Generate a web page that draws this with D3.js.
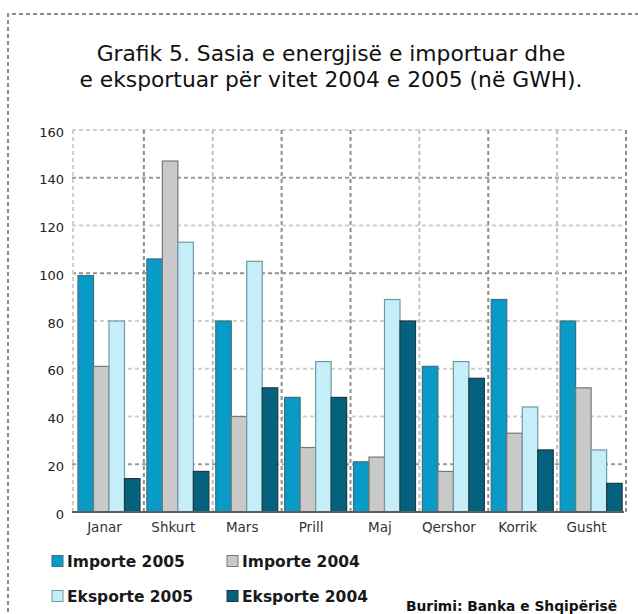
<!DOCTYPE html>
<html>
<head>
<meta charset="utf-8">
<script src="https://cdn.jsdelivr.net/npm/d3@7"></script>
<style>
  html, body { margin: 0; padding: 0; background: #fff; }
  svg { display: block; }
  text { font-family: "DejaVu Sans", Verdana, sans-serif; }
</style>
</head>
<body>
<svg id="chart" width="638" height="614"></svg>
<script>
// ---- data ----
const months = ["Janar", "Shkurt", "Mars", "Prill", "Maj", "Qershor", "Korrik", "Gusht"];
const seriesNames = ["Importe 2005", "Importe 2004", "Eksporte 2005", "Eksporte 2004"];
const importe2005 = [99, 106, 80, 48, 21, 61, 89, 80];
const importe2004 = [61, 147, 40, 27, 23, 17, 33, 52];
const eksporte2005 = [80, 113, 105, 63, 89, 63, 44, 26];
const eksporte2004 = [14, 17, 52, 48, 80, 56, 26, 12];
const yTicks = [0, 20, 40, 60, 80, 100, 120, 140, 160];
const titleLines = ["Grafik 5. Sasia e energjisë e importuar dhe", "e eksportuar për vitet 2004 e 2005 (në GWH)."];
const sourceText = "Burimi: Banka e Shqipërisë";

const seriesValues = [importe2005, importe2004, eksporte2005, eksporte2004];
const colors = ["#089bc8", "#c9c9c9", "#c6eef9", "#04627e"];
const strokes = ["#3d6f7c", "#777777", "#6f9aa3", "#1f3a44"];

const svg = d3.select("#chart");

// outer dashed frame
svg.append("path")
  .attr("d", "M8,640 L8,14 L660,14")
  .attr("fill", "none").attr("stroke", "#8a8a8a")
  .attr("stroke-width", 2).attr("stroke-dasharray", "4,3");

// title
svg.append("g").selectAll("text").data(titleLines).join("text")
  .attr("x", 331).attr("y", (d, i) => 61 + i * 25.5)
  .attr("text-anchor", "middle")
  .attr("font-size", 21.8).attr("fill", "#111")
  .text(d => d);

// scales
const x0 = d3.scaleBand().domain(months).range([73, 624]).paddingInner(0).paddingOuter(0);
const x1 = d3.scaleBand().domain(seriesNames).range([0, 62]).padding(0);
const groupOffset = 5;
const y = d3.scaleLinear().domain([0, 160]).range([512, 130]);

// horizontal gridlines
const hColors = {160: "#cfcfcf", 140: "#9a9a9a", 120: "#cfcfcf", 100: "#8f8f8f", 80: "#cfcfcf", 60: "#cfcfcf", 40: "#cfcfcf", 20: "#9a9a9a"};
svg.append("g").selectAll("line").data(yTicks.filter(t => t > 0)).join("line")
  .attr("x1", 72).attr("x2", 624)
  .attr("y1", d => y(d)).attr("y2", d => y(d))
  .attr("stroke", d => hColors[d]).attr("stroke-width", 2)
  .attr("stroke-dasharray", "4,3");

// vertical gridlines at category boundaries
const vBounds = months.map(m => x0(m)).concat([x0(months[months.length - 1]) + x0.bandwidth()]);
const vColors = ["#cfcfcf", "#8f8f8f", "#c0c0c0", "#8f8f8f", "#8f8f8f", "#c0c0c0", "#8f8f8f", "#c0c0c0", "#8f8f8f"];
svg.append("g").selectAll("line").data(vBounds).join("line")
  .attr("x1", (d, i) => i === 0 ? d : d + 2).attr("x2", (d, i) => i === 0 ? d : d + 2)
  .attr("y1", 130).attr("y2", 512)
  .attr("stroke", (d, i) => vColors[i]).attr("stroke-width", 2)
  .attr("stroke-dasharray", "4,3");

// bars
const groups = svg.append("g").selectAll("g").data(months).join("g")
  .attr("transform", d => `translate(${x0(d) + groupOffset},0)`);
groups.selectAll("rect")
  .data((m, mi) => seriesNames.map((s, si) => ({s, si, v: seriesValues[si][mi]})))
  .join("rect")
  .attr("x", d => x1(d.s))
  .attr("width", x1.bandwidth())
  .attr("y", d => y(d.v))
  .attr("height", d => y(0) - y(d.v))
  .attr("fill", d => colors[d.si])
  .attr("stroke", d => strokes[d.si])
  .attr("stroke-width", 1.2);

// zero axis line
svg.append("line").attr("x1", 72).attr("x2", 624).attr("y1", y(0)).attr("y2", y(0))
  .attr("stroke", "#5e5e5e").attr("stroke-width", 2);

// y axis labels
const yAxis = d3.axisLeft(y).tickValues(yTicks).tickSize(0).tickPadding(0);
const yg = svg.append("g").attr("transform", "translate(64,2)").call(yAxis);
yg.select(".domain").remove();
yg.selectAll("text").attr("font-size", 13).attr("fill", "#222")
  .attr("font-family", "DejaVu Sans, sans-serif");

// x axis labels
const xAxis = d3.axisBottom(x0).tickSize(0).tickPadding(0);
const xg = svg.append("g").attr("transform", "translate(-3,522)").call(xAxis);
xg.select(".domain").remove();
xg.selectAll("text").attr("font-size", 13.5).attr("fill", "#333")
  .attr("font-family", "DejaVu Sans, sans-serif");

// legend
const legendPos = [[52, 561], [227, 561], [52, 596], [227, 596]];
const lg = svg.append("g").selectAll("g").data(seriesNames).join("g")
  .attr("transform", (d, i) => `translate(${legendPos[i][0]},${legendPos[i][1]})`);
lg.append("rect").attr("x", 0).attr("y", -5.5).attr("width", 11).attr("height", 11)
  .attr("fill", (d, i) => colors[i]).attr("stroke", (d, i) => strokes[i]).attr("stroke-width", 1);
lg.append("text").attr("x", 15).attr("y", 6)
  .attr("font-size", 15.5).attr("font-weight", "bold").attr("fill", "#1a1a1a")
  .text(d => d);

// source
svg.append("text").attr("x", 406).attr("y", 611)
  .attr("font-size", 13.8).attr("font-weight", "bold").attr("fill", "#111")
  .text(sourceText);
</script>
</body>
</html>
